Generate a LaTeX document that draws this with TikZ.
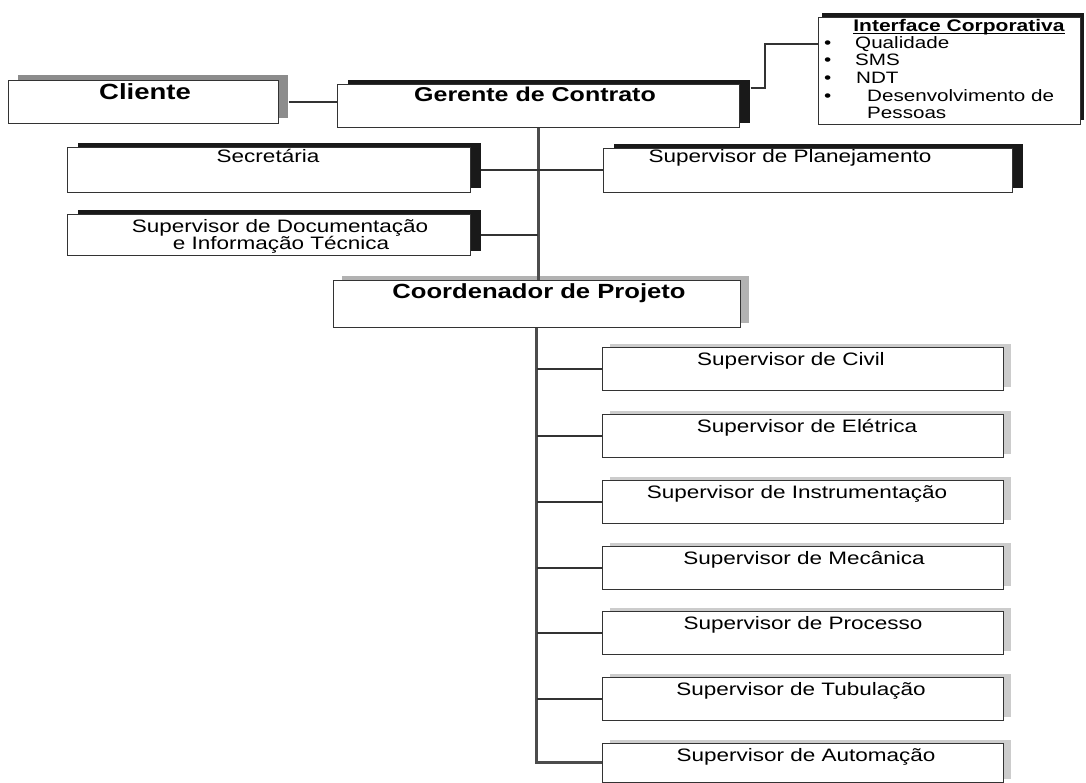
\documentclass[tikz,border=0pt]{standalone}
\usepackage{fontspec}
\newfontfamily\wf[FakeStretch=1.25]{Liberation Sans}
\usetikzlibrary{shadows}
\begin{document}
\begin{tikzpicture}[x=1pt,y=-1pt,
  box/.style={draw=black!80,line width=0.7pt,fill=white,anchor=north west,inner sep=0pt,rectangle},
  darksh/.style={drop shadow={shadow xshift=11pt,shadow yshift=4pt,fill=black!90,opacity=1}},
  graysh/.style={drop shadow={shadow xshift=10pt,shadow yshift=5pt,fill=black!45,opacity=1}},
  coosh/.style={drop shadow={shadow xshift=9pt,shadow yshift=4pt,fill=black!30,opacity=1}},
  lightsh/.style={drop shadow={shadow xshift=8pt,shadow yshift=3pt,fill=black!20,opacity=1}},
  ifcsh/.style={drop shadow={shadow xshift=4pt,shadow yshift=4pt,fill=black!90,opacity=1}},
  txt/.style={font=\wf\fontsize{18}{17}\selectfont,inner sep=0pt,anchor=base},
  btxt/.style={font=\wf\bfseries\fontsize{20}{23}\selectfont,inner sep=0pt,anchor=base},
  stxt/.style={font=\wf\fontsize{16.5}{18}\selectfont,inner sep=0pt,anchor=base west},
  conn/.style={draw=black!80,line width=2.2pt},
  trunk/.style={draw=black!70,line width=3.2pt}]

\useasboundingbox (0,0) rectangle (1086,783);

% top level
\node[box,graysh,minimum width=270pt,minimum height=43pt] (cli) at (8,80) {};
\node[btxt,font=\wf\bfseries\fontsize{22}{24}\selectfont] (clit) at (145,100) {Cliente};

\node[box,darksh,minimum width=402pt,minimum height=43pt] (ger) at (337,84) {};
\node[btxt] (gert) at (535,102) {Gerente de Contrato};

\node[box,ifcsh,minimum width=262pt,minimum height=107pt] (ifc) at (818,17) {};
\node[btxt,font=\wf\bfseries\fontsize{16.8}{18}\selectfont] (ifct) at (959,32)
  {\setbox0\hbox{Interface Corporativa}\rlap{\rule[-2pt]{\wd0}{1.2pt}}\box0};
\node[stxt] (b1) at (824,49) {•};
\node[stxt] (i1) at (855,49) {Qualidade};
\node[stxt] (b2) at (824,66) {•};
\node[stxt] (i2) at (855,66) {SMS};
\node[stxt] (b3) at (824,84) {•};
\node[stxt] (i3) at (856,84) {NDT};
\node[stxt] (b4) at (824,102) {•};
\node[stxt] (i4) at (867,102) {Desenvolvimento de};
\node[stxt] (i5) at (867,119) {Pessoas};

\node[box,darksh,minimum width=403pt,minimum height=45pt] (sec) at (67,147) {};
\node[txt] (sect) at (268,163) {Secretária};

\node[box,darksh,minimum width=409pt,minimum height=44pt] (pla) at (603,148) {};
\node[txt] (plat) at (790,163) {Supervisor de Planejamento};

\node[box,darksh,minimum width=403pt,minimum height=41pt] (doc) at (67,214) {};
\node[txt] (doct1) at (280,233) {Supervisor de Documentação};
\node[txt] (doct2) at (281,250) {e Informação Técnica};

\node[box,coosh,minimum width=407pt,minimum height=47pt] (coo) at (333,280) {};
\node[btxt,font=\wf\bfseries\fontsize{20.5}{23}\selectfont] (coot) at (539,299) {Coordenador de Projeto};

% supervisors
\node[box,lightsh,minimum width=401pt,minimum height=43pt] (civ) at (602,347) {};
\node[txt] (civt) at (791,365) {Supervisor de Civil};
\node[box,lightsh,minimum width=401pt,minimum height=43pt] (ele) at (602,414) {};
\node[txt] (elet) at (807,432) {Supervisor de Elétrica};
\node[box,lightsh,minimum width=401pt,minimum height=43pt] (ins) at (602,480) {};
\node[txt] (inst) at (797,498) {Supervisor de Instrumentação};
\node[box,lightsh,minimum width=401pt,minimum height=43pt] (mec) at (602,546) {};
\node[txt] (mect) at (804,564) {Supervisor de Mecânica};
\node[box,lightsh,minimum width=401pt,minimum height=43pt] (pro) at (602,611) {};
\node[txt] (prot) at (803,629) {Supervisor de Processo};
\node[box,lightsh,minimum width=401pt,minimum height=43pt] (tub) at (602,677) {};
\node[txt] (tubt) at (801,695) {Supervisor de Tubulação};
\node[box,lightsh,minimum width=401pt,minimum height=39pt] (aut) at (602,743) {};
\node[txt] (autt) at (806,761) {Supervisor de Automação};

% connectors
\draw[conn] ([xshift=10pt]cli.east) -- (cli.east -| ger.west);
\draw[conn] ([xshift=11pt,yshift=18pt]ger.east) -- ++(14,0) |- ([yshift=27pt]ifc.west);
\draw[trunk] (ger.south) -- (ger.south |- coo.north);
\draw[conn] ([xshift=10pt]sec.east) -- (sec.east -| ger.south);
\draw[conn] (pla.west) -- (pla.west -| ger.south);
\draw[conn] ([xshift=10pt]doc.east) -- (doc.east -| ger.south);
\draw[trunk] (coo.south) |- (aut.west);
\draw[conn] (coo.south |- civ.west) -- (civ.west);
\draw[conn] (coo.south |- ele.west) -- (ele.west);
\draw[conn] (coo.south |- ins.west) -- (ins.west);
\draw[conn] (coo.south |- mec.west) -- (mec.west);
\draw[conn] (coo.south |- pro.west) -- (pro.west);
\draw[conn] (coo.south |- tub.west) -- (tub.west);
\end{tikzpicture}
\end{document}
